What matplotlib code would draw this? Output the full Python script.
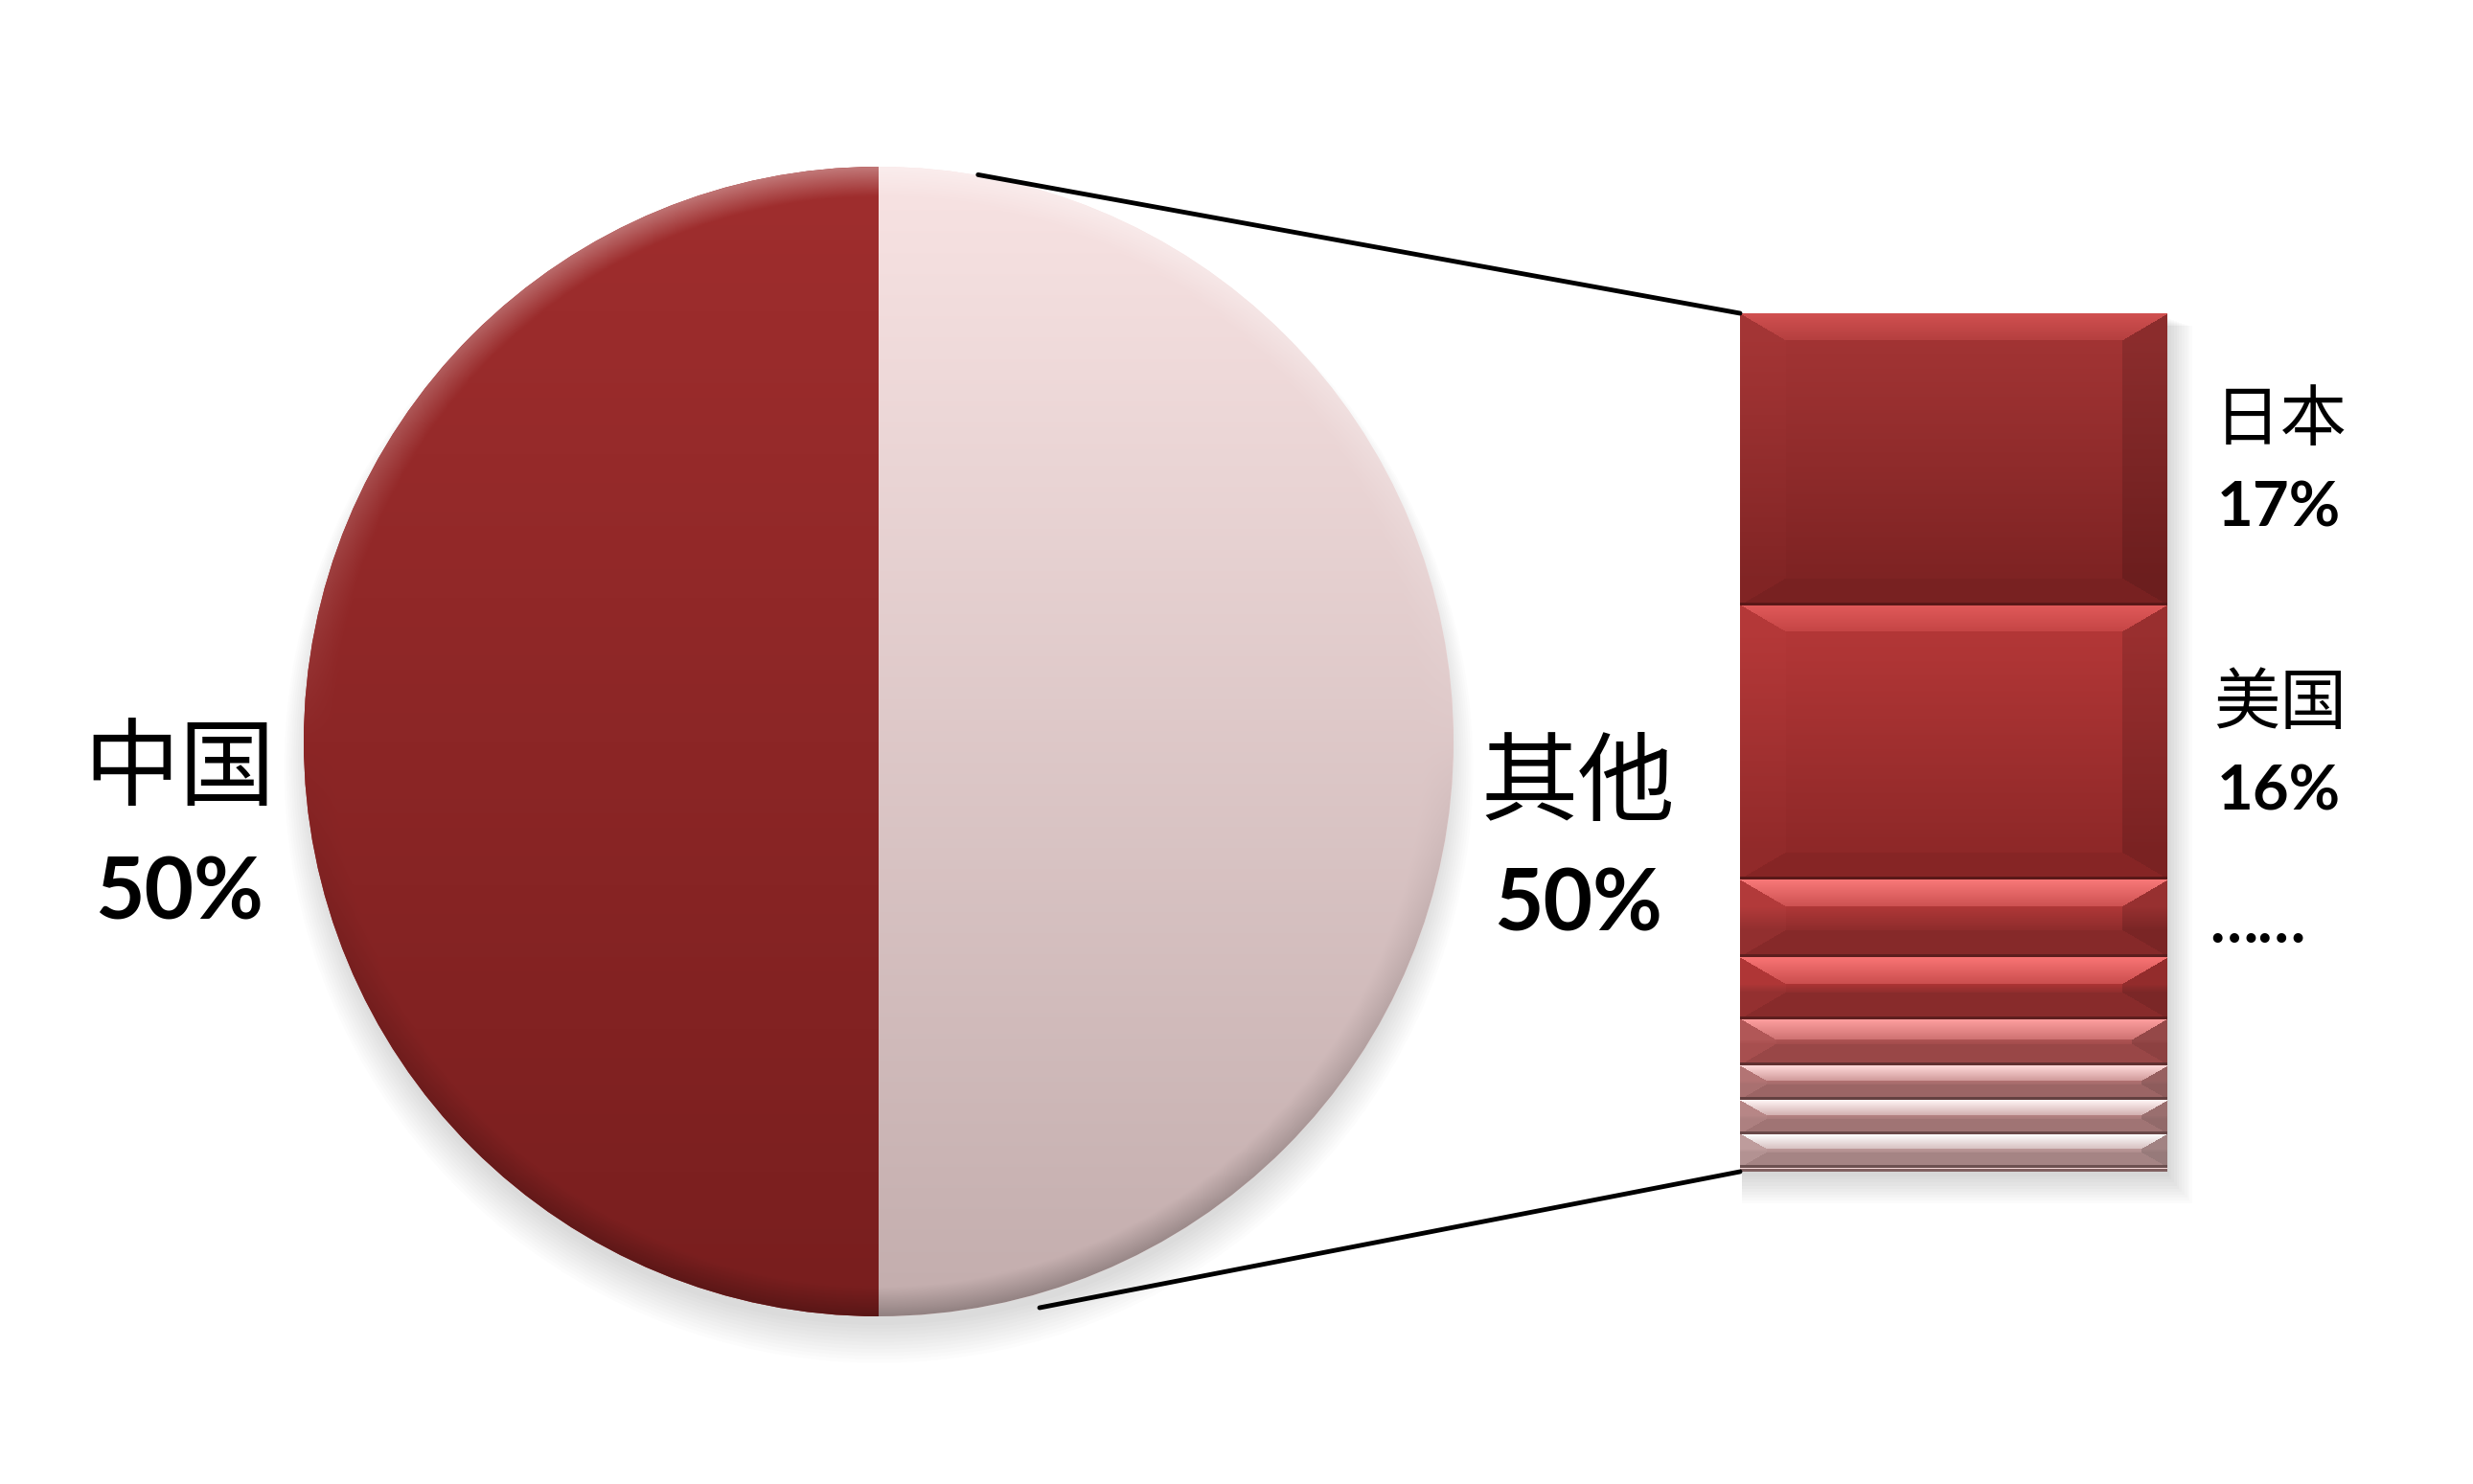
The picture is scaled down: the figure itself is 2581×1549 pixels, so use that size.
import numpy as np
import matplotlib
matplotlib.use("Agg")
import matplotlib.pyplot as plt
from matplotlib.patches import ConnectionPatch, Circle, Rectangle
from matplotlib.colors import to_rgb

# ---------------- data ----------------
pie_labels = ["中国", "其他"]
pie_values = [50, 50]
pie_pct = ["50%", "50%"]

bar_labels = ["日本", "美国"]
bar_pct = ["17%", "16%"]
bar_values = [17, 16, 4.5, 3.6, 2.7, 2.0, 2.0, 2.0, 0.2]

# ---------------- style ----------------
CJK = ["Noto Sans CJK SC", "DejaVu Sans"]
NUM = ["Lato", "DejaVu Sans"]

pie_cols = [("#A02E2E", "#781E1E"), ("#F8E3E3", "#C3ADAD")]
# (highlight, top, bottom, edge)
bar_cols = [
    ("#D05050", "#A23434", "#7E2323", "#5A1818"),
    ("#E05A5A", "#B33737", "#8E2828", "#5A1818"),
    ("#F87878", "#B03838", "#8E2C2C", "#5E1E1E"),
    ("#F87474", "#AC3434", "#902E2E", "#5E1E1E"),
    ("#FFA0A0", "#AE5454", "#A44C4C", "#603030"),
    ("#FFD8D8", "#B07070", "#A66C6C", "#644040"),
    ("#FFF4F4", "#B48282", "#AA7C7C", "#684848"),
    ("#FFFFFF", "#BC9898", "#B08E8E", "#6C5050"),
    ("#F6D8D8", "#D8B8B8", "#B09090", "#806060"),
]

W, H = 2581, 1549
fig = plt.figure(figsize=(W / 100, H / 100), dpi=100)
fig.patch.set_facecolor("white")

# ---------------- pie ----------------
cx, cy, r = 917, 774, 600
ax_pie = fig.add_axes([(cx - r) / W, (H - cy - r) / H, 2 * r / W, 2 * r / H])
ax_pie.axis("off")

for k in range(12):
    ax_pie.add_patch(Circle((0.0, -0.025 - k * 0.002), 0.99 + k * 0.004,
                            color="black", alpha=0.011, lw=0, zorder=0, clip_on=False))

wedges, _ = ax_pie.pie(pie_values, startangle=90, counterclock=True, radius=1,
                       colors=[c[0] for c in pie_cols],
                       wedgeprops=dict(linewidth=0))

n = 700
yy, xx = np.mgrid[1:-1:n * 1j, -1:1:n * 1j]
rr = np.sqrt(xx ** 2 + yy ** 2)
rim = np.clip((rr - 0.95) / 0.05, 0, 1)
t = (1 - yy) / 2
for w, (ct, cb) in zip(wedges, pie_cols):
    c0, c1 = np.array(to_rgb(ct)), np.array(to_rgb(cb))
    img = c0 * (1 - t[..., None]) + c1 * t[..., None]
    up = (rim * np.clip(yy, 0, 1) * 0.35)[..., None]
    dn = (rim * np.clip(-yy, 0, 1) * 0.25)[..., None]
    img = img * (1 - up) + up
    img = img * (1 - dn)
    im = ax_pie.imshow(img, extent=(-1, 1, -1, 1), origin="upper", aspect="auto",
                       interpolation="bilinear", zorder=2)
    im.set_clip_path(w)
ax_pie.set_xlim(-1, 1)
ax_pie.set_ylim(-1, 1)

# ---------------- bar ----------------
bx0, bx1, by0, by1 = 1816, 2262, 327, 1223
ax_bar = fig.add_axes([bx0 / W, (H - by1) / H, (bx1 - bx0) / W, (by1 - by0) / H])
ax_bar.axis("off")
bottoms = np.concatenate([[0], np.cumsum(bar_values)[:-1]])
total = float(np.sum(bar_values))

for k in range(10):
    ax_bar.add_patch(Rectangle((-0.5 + 0.004, 0.3 + k * 0.05), 1.0 + k * 0.006,
                               total + k * 0.12, color="black", alpha=0.014,
                               lw=0, zorder=0, clip_on=False))

bars = ax_bar.bar([0] * len(bar_values), bar_values, bottom=bottoms, width=1,
                  color=[c[1] for c in bar_cols], linewidth=0, zorder=1)

px_per_unit = (by1 - by0) / total
wp = bx1 - bx0
for b, v, bot, (hl, top, btm, edge) in zip(bars, bar_values, bottoms, bar_cols):
    hp = v * px_per_unit
    N = max(int(np.ceil(hp)), 4)
    yp = np.linspace(0, hp, N)[:, None] * np.ones((1, wp))
    xp = np.ones((N, 1)) * np.arange(wp)[None, :]
    bev_y = min(28.0, 0.45 * hp)
    bev_x = min(48.0, bev_y * 1.7)
    dt = yp / bev_y
    db = (hp - yp) / bev_y
    dl = xp / bev_x
    dr = (wp - xp) / bev_x
    stack = np.stack([dt, db, dl, dr])
    which = np.argmin(stack, axis=0)
    dmin = np.min(stack, axis=0)
    chl, ctop, cbtm, cedg = (np.array(to_rgb(c)) for c in (hl, top, btm, edge))
    s = np.clip((yp - bev_y) / max(hp - 2 * bev_y, 1e-6), 0, 1)[..., None]
    body = ctop * (1 - s) + cbtm * s
    img = body.copy()
    face = dmin < 1
    m = face & (which == 0)
    f = np.clip(dt, 0, 1)[..., None]
    img_top = chl * (1 - 0.6 * f) + ctop * 0.6 * f
    img = np.where(m[..., None], img_top, img)
    m = face & (which == 1)
    img_bot = cbtm * 0.85 + cedg * 0.15
    img = np.where(m[..., None], img_bot, img)
    m = face & (which == 2)
    img = np.where(m[..., None], body * 0.96 + chl * 0.04, img)
    m = face & (which == 3)
    img = np.where(m[..., None], body * 0.86, img)
    img = np.where((hp - yp < 2.5)[..., None], cedg, img)
    im = ax_bar.imshow(np.clip(img, 0, 1), extent=(-0.5, 0.5, bot + v, bot), origin="upper",
                       aspect="auto", interpolation="bilinear", zorder=2)
    im.set_clip_path(b)
ax_bar.set_xlim(-0.5, 0.5)
ax_bar.set_ylim(total, 0)

# ---------------- connector lines ----------------
for xyA, yb in (((0.173, 0.986), 0), ((0.28, -0.985), total)):
    con = ConnectionPatch(xyA=xyA, coordsA=ax_pie.transData,
                          xyB=(-0.5, yb), coordsB=ax_bar.transData,
                          color="black", lw=3.5, zorder=1)
    fig.add_artist(con)

# ---------------- labels ----------------
def fx(x):
    return x / W

def fy(y):
    return 1 - y / H

fig.text(fx(187), fy(804), pie_labels[0], family=CJK, fontsize=72, ha="center", va="center")
fig.text(fx(187), fy(960), pie_pct[0], family=NUM, fontweight="bold", fontsize=64, ha="center", va="baseline")
fig.text(fx(1647), fy(820), pie_labels[1], family=CJK, fontsize=73, ha="center", va="center")
fig.text(fx(1647), fy(972), pie_pct[1], family=NUM, fontweight="bold", fontsize=64, ha="center", va="baseline")

fig.text(fx(2380), fy(439), bar_labels[0], family=CJK, fontsize=50, ha="center", va="center")
fig.text(fx(2378), fy(549), bar_pct[0], family=NUM, fontweight="bold", fontsize=47, ha="center", va="baseline")
fig.text(fx(2380), fy(735), bar_labels[1], family=CJK, fontsize=50, ha="center", va="center")
fig.text(fx(2378), fy(845), bar_pct[1], family=NUM, fontweight="bold", fontsize=47, ha="center", va="baseline")
fig.text(fx(2356), fy(984), "……", family=NUM, fontweight="bold", fontsize=47, ha="center", va="baseline")

fig.savefig("out.png", dpi=100, facecolor="white")
